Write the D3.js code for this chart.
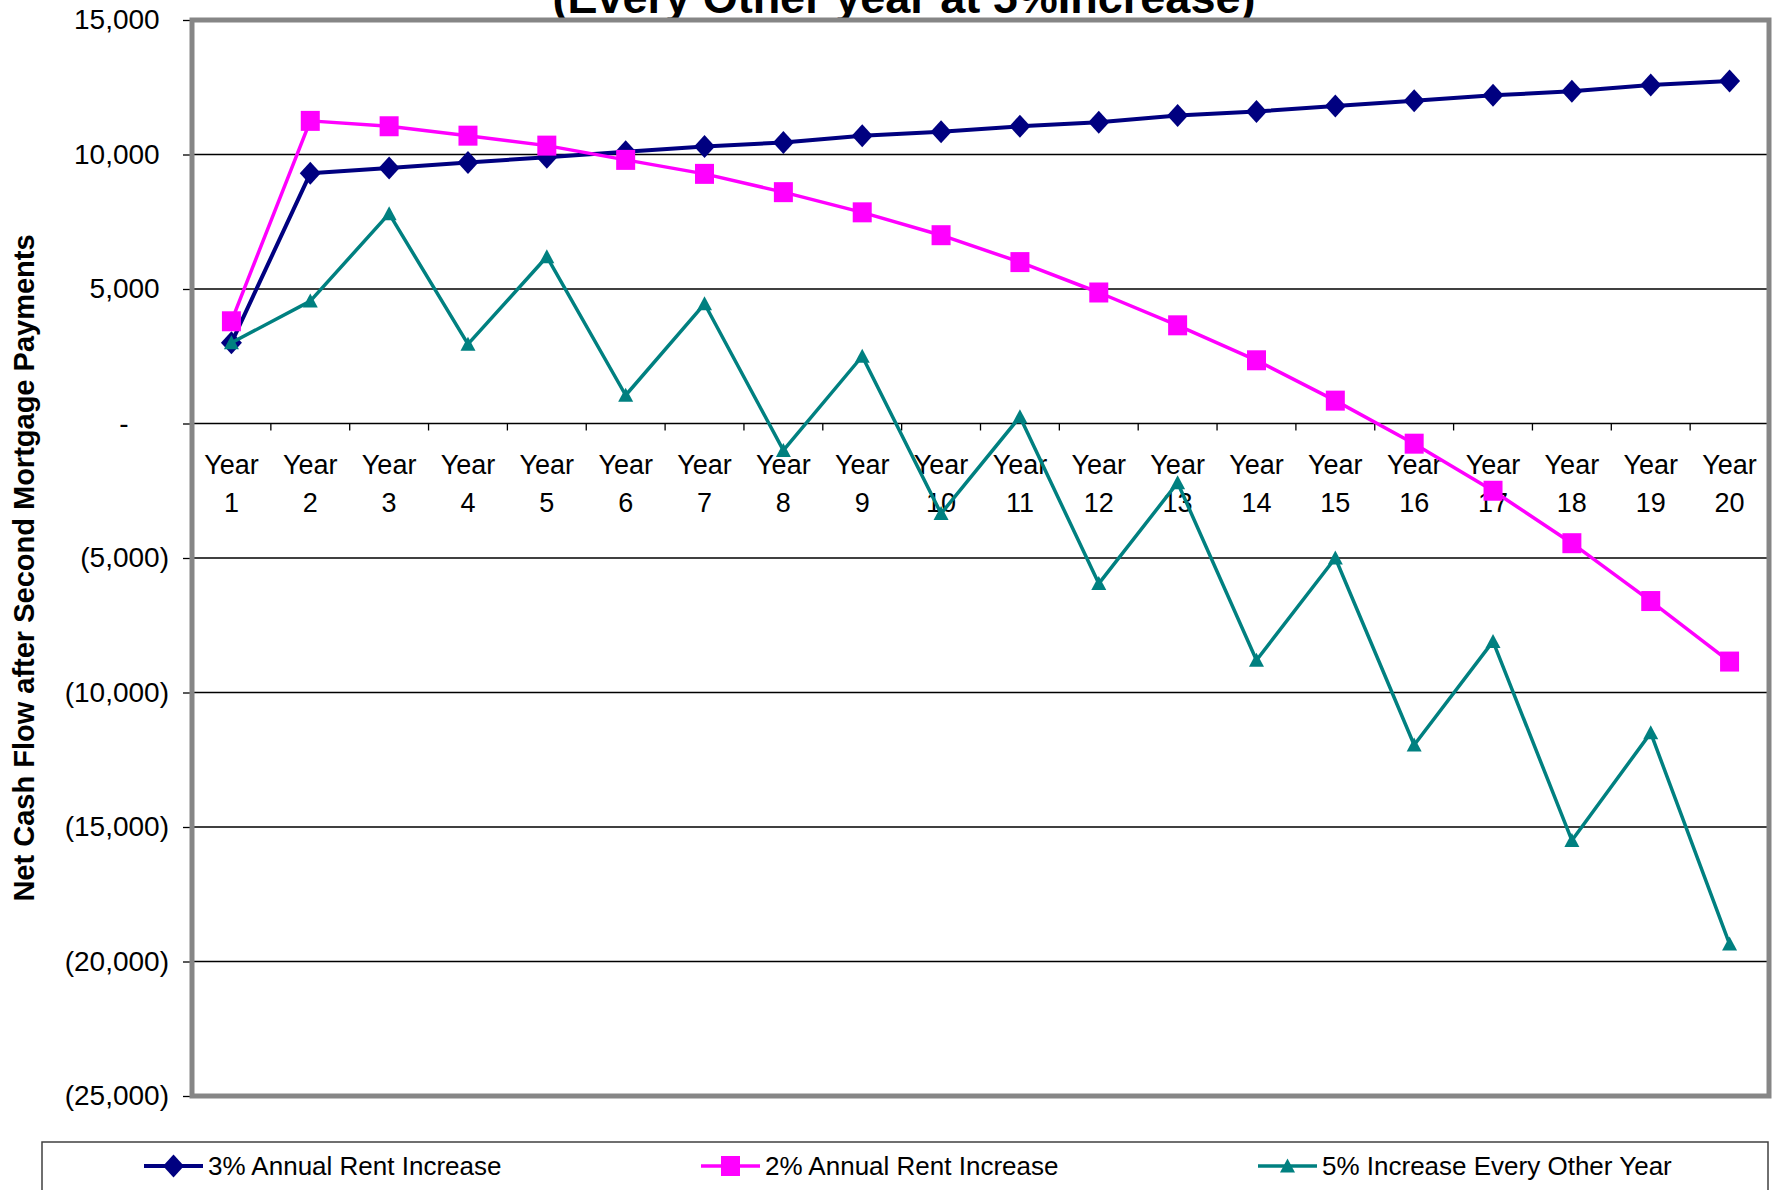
<!DOCTYPE html>
<html>
<head>
<meta charset="utf-8">
<script src="https://cdn.jsdelivr.net/npm/d3@7/dist/d3.min.js"></script>
<style>
  html, body { margin: 0; padding: 0; background: #fff; }
  svg { display: block; font-family: Arial, 'Liberation Sans', sans-serif; }
</style>
</head>
<body>
<svg id="chart" width="1772" height="1190"></svg>
<script>
'use strict';

// ── Data ────────────────────────────────────────────────────────────────────
const years = ['Year 1', 'Year 2', 'Year 3', 'Year 4', 'Year 5', 'Year 6', 'Year 7',
  'Year 8', 'Year 9', 'Year 10', 'Year 11', 'Year 12', 'Year 13', 'Year 14',
  'Year 15', 'Year 16', 'Year 17', 'Year 18', 'Year 19', 'Year 20'];

const rent3pct = [3000, 9300, 9500, 9700, 9900, 10100, 10300, 10450, 10700, 10850,
  11050, 11200, 11450, 11600, 11800, 12000, 12200, 12350, 12580, 12730];

const rent2pct = [3800, 11250, 11050, 10700, 10330, 9800, 9280, 8600, 7850, 7000,
  6000, 4870, 3650, 2350, 850, -750, -2500, -4450, -6600, -8850];

const everyOther5pct = [3000, 4550, 7800, 2950, 6200, 1050, 4450, -1000, 2500, -3350,
  250, -5950, -2200, -8800, -5000, -11950, -8100, -15500, -11500, -19350];

const seriesNames = ['3% Annual Rent Increase', '2% Annual Rent Increase', '5% Increase Every Other Year'];

const yTicks = [15000, 10000, 5000, 0, -5000, -10000, -15000, -20000, -25000];

// ── Layout ──────────────────────────────────────────────────────────────────
const svg = d3.select('#chart');

const PLOT_L = 192, PLOT_R = 1769;
const PLOT_T = 20,  PLOT_B = 1096;

const x = d3.scaleBand().domain(years).range([PLOT_L, PLOT_R]);
const y = d3.scaleLinear().domain([-25000, 15000]).range([PLOT_B, PLOT_T]);
const cx = d => x(d) + x.bandwidth() / 2;

// ── Title (first line falls outside the picture) ───────────────────────────
svg.append('text')
  .attr('x', 904).attr('y', 13)
  .attr('text-anchor', 'middle')
  .attr('font-size', 45).attr('font-weight', 'bold')
  .text('(Every Other year at 5%Increase)');

// ── Gridlines ──────────────────────────────────────────────────────────────
svg.append('g')
  .selectAll('line')
  .data(yTicks.filter(v => v < 15000 && v > -25000))
  .join('line')
  .attr('x1', PLOT_L).attr('x2', PLOT_R)
  .attr('y1', d => y(d)).attr('y2', d => y(d))
  .attr('stroke', '#000').attr('stroke-width', 1.3);

// ── Y axis ─────────────────────────────────────────────────────────────────
const yAxis = svg.append('g')
  .attr('transform', `translate(${PLOT_L},0)`)
  .call(d3.axisLeft(y).tickValues(yTicks).tickSize(9).tickPadding(14).tickFormat(() => ''))
  .call(ax => ax.select('.domain').remove());

yAxis.selectAll('.tick line').attr('stroke', '#000').attr('stroke-width', 1.3);

// accounting style: positives padded by ')' width, zero shown as '-'
yAxis.selectAll('.tick text')
  .attr('font-size', 28).attr('fill', '#000')
  .attr('font-family', 'Arial, "Liberation Sans", sans-serif')
  .each(function (v) {
    const t = d3.select(this);
    const fmt = d3.format(',')(Math.abs(v));
    if (v < 0) {
      t.append('tspan').text('(' + fmt + ')');
    } else if (v === 0) {
      t.append('tspan').text('-');
      t.append('tspan').attr('fill-opacity', 0).text('00)');
    } else {
      t.append('tspan').text(fmt);
      t.append('tspan').attr('fill-opacity', 0).text(')');
    }
  });

svg.append('text')
  .attr('transform', `translate(34,568) rotate(-90)`)
  .attr('text-anchor', 'middle')
  .attr('font-size', 29).attr('font-weight', 'bold')
  .text('Net Cash Flow after Second Mortgage Payments');

// ── X axis (at zero) ───────────────────────────────────────────────────────
const ZERO = y(0);

svg.append('g')
  .selectAll('line')
  .data(years.concat(['end']))
  .join('line')
  .attr('x1', d => d === 'end' ? PLOT_R : x(d))
  .attr('x2', d => d === 'end' ? PLOT_R : x(d))
  .attr('y1', ZERO).attr('y2', ZERO + 7)
  .attr('stroke', '#000').attr('stroke-width', 1.3);

const xLabels = svg.append('g')
  .attr('font-size', 27)
  .attr('text-anchor', 'middle')
  .selectAll('text')
  .data(years)
  .join('text')
  .attr('x', d => cx(d));

xLabels.append('tspan').attr('x', d => cx(d)).attr('y', 474).text(d => d.split(' ')[0]);
xLabels.append('tspan').attr('x', d => cx(d)).attr('y', 512).text(d => d.split(' ')[1]);

// ── Plot border ────────────────────────────────────────────────────────────
svg.append('rect')
  .attr('x', PLOT_L).attr('y', PLOT_T)
  .attr('width', PLOT_R - PLOT_L).attr('height', PLOT_B - PLOT_T)
  .attr('fill', 'none')
  .attr('stroke', '#868686').attr('stroke-width', 5);

// ── Markers ────────────────────────────────────────────────────────────────
const diamond  = 'M0,-11.5L10.5,0L0,11.5L-10.5,0Z';
const square   = 'M-9.5,-10H9.5V10H-9.5Z';
const triangle = 'M0,-7.5L7.5,6.5L-7.5,6.5Z';

const series = [
  { name: seriesNames[0], values: rent3pct,       color: '#000080', width: 4,   marker: diamond },
  { name: seriesNames[1], values: rent2pct,       color: '#FF00FF', width: 3.5, marker: square },
  { name: seriesNames[2], values: everyOther5pct, color: '#008080', width: 3.5, marker: triangle }
];

const line = d3.line()
  .x((d, i) => cx(years[i]))
  .y(d => y(d));

series.forEach(s => {
  const g = svg.append('g');

  g.append('path')
    .datum(s.values)
    .attr('d', line)
    .attr('fill', 'none')
    .attr('stroke', s.color)
    .attr('stroke-width', s.width)
    .attr('stroke-linejoin', 'round');

  g.selectAll('path.mk')
    .data(s.values)
    .join('path')
    .attr('class', 'mk')
    .attr('d', s.marker)
    .attr('transform', (d, i) => `translate(${cx(years[i])},${y(d)})`)
    .attr('fill', s.color);
});

// ── Legend ─────────────────────────────────────────────────────────────────
svg.append('rect')
  .attr('x', 42).attr('y', 1142)
  .attr('width', 1726).attr('height', 100)
  .attr('fill', '#fff')
  .attr('stroke', '#404040').attr('stroke-width', 1.5);

const LEG_Y = 1166;
const legendX = [144, 701, 1258];

series.forEach((s, i) => {
  const lx = legendX[i];
  const g = svg.append('g');

  g.append('line')
    .attr('x1', lx).attr('x2', lx + 59)
    .attr('y1', LEG_Y).attr('y2', LEG_Y)
    .attr('stroke', s.color).attr('stroke-width', s.width);

  g.append('path')
    .attr('d', s.marker)
    .attr('transform', `translate(${lx + 29.5},${LEG_Y})`)
    .attr('fill', s.color);

  g.append('text')
    .attr('x', lx + 64).attr('y', LEG_Y + 9)
    .attr('font-size', 26)
    .text(s.name);
});
</script>
</body>
</html>
